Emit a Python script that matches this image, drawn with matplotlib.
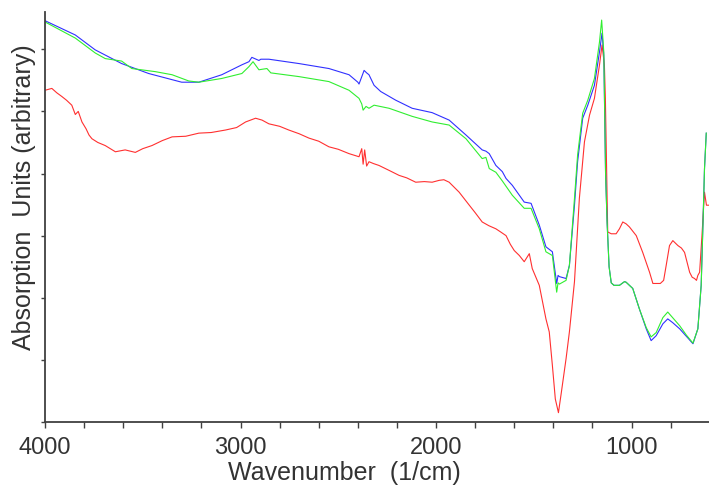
import numpy as np
import matplotlib
matplotlib.use("Agg")
import matplotlib.pyplot as plt
from matplotlib.ticker import MultipleLocator, NullFormatter

plt.rcParams['font.family'] = ['Liberation Sans', 'DejaVu Sans']

# blue spectrum (wavenumber, absorbance)
blue_wn = [4000, 3845, 3743, 3608, 3470, 3301, 3213, 3096, 2993, 2957, 2942, 2906, 2896,
           2855, 2701, 2548, 2445, 2400, 2394, 2375, 2368, 2355, 2343, 2317, 2283, 2206,
           2122, 2020, 1933, 1847, 1764, 1745, 1728, 1694, 1661, 1642, 1610, 1549, 1514,
           1472, 1438, 1405, 1383, 1376, 1369, 1335, 1318, 1292, 1276, 1250, 1224, 1190,
           1164, 1151, 1142, 1133, 1125, 1115, 1104, 1090, 1062, 1036, 1028, 994, 960,
           925, 900, 874, 840, 815, 790, 754, 720, 686, 661, 644, 635, 627, 618]
blue_ab = [6.46, 6.23, 5.99, 5.77, 5.61, 5.47, 5.47, 5.59, 5.75, 5.80, 5.87, 5.82, 5.84,
           5.84, 5.77, 5.69, 5.59, 5.47, 5.44, 5.60, 5.66, 5.62, 5.59, 5.42, 5.32, 5.18,
           5.05, 4.98, 4.86, 4.62, 4.38, 4.36, 4.32, 4.13, 4.03, 3.92, 3.81, 3.54, 3.52,
           3.17, 2.82, 2.74, 2.23, 2.36, 2.34, 2.31, 2.52, 3.49, 4.19, 4.89, 5.10, 5.42,
           5.96, 6.26, 5.90, 4.00, 3.20, 2.50, 2.24, 2.20, 2.20, 2.26, 2.25, 2.15, 1.82,
           1.50, 1.31, 1.39, 1.58, 1.66, 1.60, 1.50, 1.38, 1.26, 1.50, 2.20, 3.17, 4.08, 4.65]

# green spectrum
green_wn = [4000, 3845, 3743, 3692, 3608, 3556, 3436, 3350, 3265, 3213, 3096, 2993, 2957,
            2936, 2906, 2865, 2845, 2701, 2548, 2445, 2394, 2380, 2373, 2358, 2343, 2317,
            2240, 2122, 2020, 1933, 1847, 1764, 1745, 1728, 1694, 1661, 1610, 1549, 1514,
            1472, 1438, 1405, 1383, 1376, 1369, 1335, 1318, 1292, 1276, 1250, 1224, 1190,
            1164, 1153, 1142, 1133, 1125, 1115, 1104, 1090, 1062, 1036, 1028, 994, 960,
            925, 900, 874, 840, 815, 790, 754, 720, 686, 661, 644, 635, 627, 618]
green_ab = [6.44, 6.18, 5.94, 5.85, 5.81, 5.69, 5.64, 5.59, 5.49, 5.47, 5.53, 5.61, 5.72,
            5.80, 5.67, 5.69, 5.62, 5.56, 5.48, 5.34, 5.21, 5.12, 5.02, 5.08, 5.05, 5.10,
            5.05, 4.92, 4.83, 4.78, 4.56, 4.24, 4.26, 4.08, 4.02, 3.88, 3.65, 3.44, 3.44,
            3.11, 2.74, 2.68, 2.09, 2.24, 2.22, 2.28, 2.52, 3.60, 4.30, 4.97, 5.18, 5.53,
            6.12, 6.47, 5.95, 4.00, 3.20, 2.50, 2.24, 2.20, 2.20, 2.26, 2.25, 2.15, 1.82,
            1.52, 1.37, 1.44, 1.68, 1.77, 1.68, 1.55, 1.40, 1.27, 1.50, 2.20, 3.17, 4.08, 4.65]

# red spectrum
red_wn = [4000, 3965, 3940, 3914, 3890, 3863, 3845, 3830, 3811, 3790, 3775, 3760, 3730,
          3692, 3640, 3590, 3538, 3500, 3453, 3400, 3350, 3280, 3213, 3150, 3077, 3020,
          2974, 2923, 2890, 2855, 2800, 2753, 2700, 2650, 2600, 2548, 2500, 2445, 2394,
          2380, 2373, 2365, 2355, 2343, 2320, 2292, 2240, 2189, 2150, 2104, 2060, 2020,
          1984, 1960, 1933, 1882, 1830, 1800, 1764, 1730, 1694, 1670, 1642, 1620, 1600,
          1574, 1549, 1523, 1508, 1472, 1438, 1421, 1405, 1390, 1374, 1359, 1335, 1318,
          1292, 1267, 1241, 1215, 1190, 1164, 1151, 1139, 1134, 1122, 1104, 1079, 1062,
          1045, 1028, 1011, 976, 943, 908, 891, 853, 836, 823, 806, 789, 763, 745, 729,
          703, 690, 678, 668, 661, 652, 640, 627, 617, 606]
red_ab = [5.34, 5.37, 5.30, 5.24, 5.18, 5.10, 4.95, 5.00, 4.83, 4.72, 4.62, 4.56, 4.50,
          4.45, 4.35, 4.38, 4.34, 4.40, 4.45, 4.53, 4.59, 4.60, 4.65, 4.66, 4.70, 4.74,
          4.83, 4.89, 4.86, 4.80, 4.76, 4.70, 4.64, 4.57, 4.52, 4.43, 4.39, 4.32, 4.27,
          4.40, 4.15, 4.38, 4.12, 4.19, 4.16, 4.13, 4.05, 3.97, 3.93, 3.86, 3.87, 3.86,
          3.89, 3.90, 3.86, 3.70, 3.49, 3.37, 3.22, 3.16, 3.11, 3.06, 3.00, 2.86, 2.76,
          2.68, 2.58, 2.71, 2.47, 2.20, 1.66, 1.45, 0.91, 0.37, 0.15, 0.48, 1.02, 1.45,
          2.26, 3.60, 4.51, 4.94, 5.21, 5.75, 6.07, 5.75, 5.21, 3.06, 3.03, 3.03, 3.11,
          3.22, 3.19, 3.14, 3.00, 2.73, 2.41, 2.23, 2.23, 2.28, 2.52, 2.84, 2.92, 2.84,
          2.80, 2.73, 2.41, 2.33, 2.31, 2.28, 2.36, 2.41, 3.00, 3.70, 3.49, 3.49]

fig = plt.figure(figsize=(7.09, 4.89), dpi=100)
ax = fig.add_axes([45 / 709, 66 / 489, 664 / 709, 410 / 489])

ax.plot(red_wn, red_ab, color='#ff3030', lw=0.8)
ax.plot(blue_wn, blue_ab, color='#3030ff', lw=0.8)
ax.plot(green_wn, green_ab, color='#30ee30', lw=0.8)

ax.set_xlim(4000, 604)
ax.set_ylim(0, 6.6)

ax.xaxis.set_major_locator(MultipleLocator(1000))
ax.xaxis.set_minor_locator(MultipleLocator(200))
ax.yaxis.set_major_locator(MultipleLocator(1))
ax.yaxis.set_major_formatter(NullFormatter())

for s in ['top', 'right']:
    ax.spines[s].set_visible(False)
for s in ['left', 'bottom']:
    ax.spines[s].set_color('#404040')
    ax.spines[s].set_linewidth(1.3)

ax.tick_params(axis='x', which='both', direction='out', length=4, width=1,
               color='#404040', labelsize=17, labelcolor='#333333', pad=6)
ax.tick_params(axis='y', direction='out', length=3, width=1, color='#404040')

ax.set_xlabel('Wavenumber  (1/cm)', fontsize=18, color='#333333')
ax.xaxis.set_label_coords(0.451, -0.092)
ax.set_ylabel('Absorption  Units (arbitrary)', fontsize=18, color='#333333')
ax.yaxis.set_label_coords(-0.014, 0.55)

fig.savefig('out.png', dpi=100)
